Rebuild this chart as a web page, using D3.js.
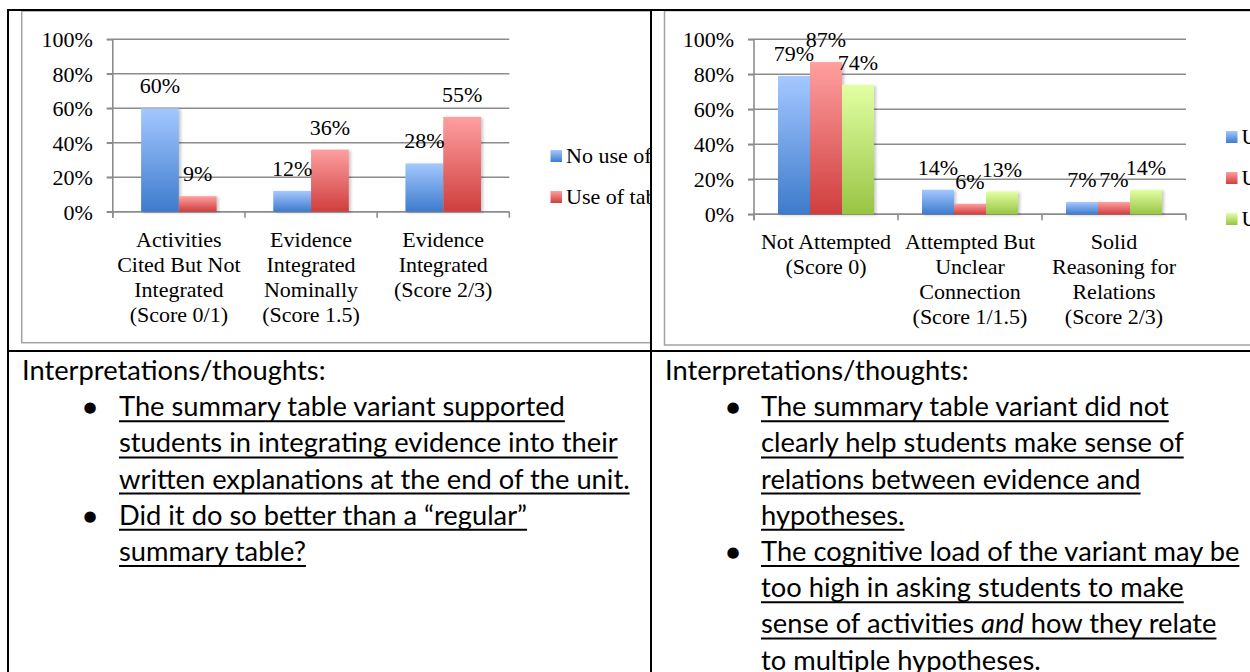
<!DOCTYPE html>
<html>
<head>
<meta charset="utf-8">
<script src="https://cdn.jsdelivr.net/npm/d3@7"></script>
<style>
  body { margin: 0; background: #fff; }
  svg { display: block; }
</style>
</head>
<body>
<script>
var width = 1250;
var height = 672;

// chart data
var yTicks = [0, 0.2, 0.4, 0.6, 0.8, 1.0];

var leftCategories = [
  ["Activities", "Cited But Not", "Integrated", "(Score 0/1)"],
  ["Evidence", "Integrated", "Nominally", "(Score 1.5)"],
  ["Evidence", "Integrated", "(Score 2/3)"]
];
var leftSeries = ["No use of table", "Use of table"];
var leftNoUse = [0.60, 0.12, 0.28];
var leftUse = [0.09, 0.36, 0.55];

var rightCategories = [
  ["Not Attempted", "(Score 0)"],
  ["Attempted But", "Unclear", "Connection", "(Score 1/1.5)"],
  ["Solid", "Reasoning for", "Relations", "(Score 2/3)"]
];
var rightSeries = ["Used regular table", "Used variant table", "Used no table"];
var rightRegular = [0.79, 0.14, 0.07];
var rightVariant = [0.87, 0.06, 0.07];
var rightNone = [0.74, 0.13, 0.14];

var leftNotes = [
  { bullet: true, lines: ["The summary table variant supported", "students in integrating evidence into their", "written explanations at the end of the unit."] },
  { bullet: true, lines: ["Did it do so better than a \u201Cregular\u201D", "summary table?"] }
];
var rightNotes = [
  { bullet: true, lines: ["The summary table variant did not", "clearly help students make sense of", "relations between evidence and", "hypotheses."] },
  { bullet: true, lines: ["The cognitive load of the variant may be", "too high in asking students to make", "sense of activities |and| how they relate", "to multiple hypotheses."] }
];

var gradStops = {
  blue: ["#a4c8ff", "#3d7bcc"],
  red: ["#ff9f9f", "#cf3e3e"],
  green: ["#e2ffa3", "#98c444"]
};

var svg = d3.select("body").append("svg")
    .attr("width", width)
    .attr("height", height);

var defs = svg.append("defs");
Object.keys(gradStops).forEach(function(k) {
  var g = defs.append("linearGradient")
      .attr("id", "grad-" + k)
      .attr("x1", 0).attr("y1", 0).attr("x2", 0).attr("y2", 1);
  g.append("stop").attr("offset", "0%").attr("stop-color", gradStops[k][0]);
  g.append("stop").attr("offset", "100%").attr("stop-color", gradStops[k][1]);
});
var shadow = defs.append("filter").attr("id", "shadow")
    .attr("x", "-20%").attr("y", "-20%").attr("width", "150%").attr("height", "150%");
shadow.append("feDropShadow")
    .attr("dx", 2).attr("dy", 1).attr("stdDeviation", 1.5)
    .attr("flood-color", "#000").attr("flood-opacity", 0.22);

defs.append("clipPath").attr("id", "clip-left")
  .append("rect").attr("x", 9).attr("y", 11).attr("width", 641).attr("height", 339);
defs.append("clipPath").attr("id", "clip-right")
  .append("rect").attr("x", 652).attr("y", 11).attr("width", 600).attr("height", 339);

function drawChart(cfg) {
  var g = svg.append("g").attr("clip-path", "url(#" + cfg.clip + ")");

  // chart frame
  g.append("rect")
      .attr("x", cfg.frame[0]).attr("y", cfg.frame[1])
      .attr("width", cfg.frame[2]).attr("height", cfg.frame[3])
      .attr("fill", "#fff")
      .attr("stroke", "#a3a3a3")
      .attr("stroke-width", 1.5);

  var y = d3.scaleLinear().domain([0, 1]).range(cfg.yRange);
  var x0 = d3.scaleBand()
      .domain(d3.range(cfg.categories.length))
      .range(cfg.xRange)
      .padding(0);
  var x1 = d3.scaleBand()
      .domain(d3.range(cfg.series.length))
      .range([0, x0.bandwidth()])
      .paddingInner(0)
      .paddingOuter(0.75);

  var left = cfg.xRange[0], right = cfg.xRange[1];

  // gridlines
  g.selectAll(".grid").data(yTicks).enter().append("line")
      .attr("class", "grid")
      .attr("x1", left - 6).attr("x2", right)
      .attr("y1", function(d) { return y(d); })
      .attr("y2", function(d) { return y(d); })
      .attr("stroke", "#8c8c8c")
      .attr("stroke-width", 1.6);

  // y axis
  var yAxis = d3.axisLeft(y)
      .tickValues(yTicks)
      .tickFormat(d3.format(".0%"))
      .tickSizeInner(6)
      .tickSizeOuter(0)
      .tickPadding(14);
  var ya = g.append("g")
      .attr("transform", "translate(" + left + ",0)")
      .call(yAxis);
  ya.select(".domain").remove();
  ya.selectAll("line").attr("stroke", "#8c8c8c").attr("stroke-width", 1.6);
  ya.selectAll("text")
      .attr("font-family", "'Liberation Serif', serif")
      .attr("font-size", 22)
      .attr("fill", "#000")
      .attr("dy", "0.34em");
  g.append("line")
      .attr("x1", left).attr("x2", left)
      .attr("y1", y(1)).attr("y2", y(0) + 6)
      .attr("stroke", "#8c8c8c").attr("stroke-width", 1.6);

  // x axis baseline + ticks at category boundaries
  g.append("line")
      .attr("x1", left).attr("x2", right)
      .attr("y1", y(0)).attr("y2", y(0))
      .attr("stroke", "#8c8c8c").attr("stroke-width", 1.6);
  var bounds = x0.domain().map(function(i) { return x0(i); }).concat([right]);
  g.selectAll(".xtick").data(bounds).enter().append("line")
      .attr("class", "xtick")
      .attr("x1", function(d) { return d; }).attr("x2", function(d) { return d; })
      .attr("y1", y(0)).attr("y2", y(0) + 6)
      .attr("stroke", "#8c8c8c").attr("stroke-width", 1.6);

  // bars
  cfg.values.forEach(function(vals, s) {
    g.selectAll(".bar-" + s).data(vals).enter().append("rect")
        .attr("class", "bar-" + s)
        .attr("x", function(d, i) { return x0(i) + x1(s); })
        .attr("y", function(d) { return y(d); })
        .attr("width", x1.bandwidth())
        .attr("height", function(d) { return y(0) - y(d); })
        .attr("fill", "url(#grad-" + cfg.colors[s] + ")")
        .attr("filter", "url(#shadow)");
  });

  // value labels
  cfg.values.forEach(function(vals, s) {
    g.selectAll(".lab-" + s).data(vals).enter().append("text")
        .attr("class", "lab-" + s)
        .attr("x", function(d, i) { return x0(i) + x1(s) + x1.bandwidth() / 2; })
        .attr("y", function(d) { return y(d) - 15; })
        .attr("text-anchor", "middle")
        .attr("font-family", "'Liberation Serif', serif")
        .attr("font-size", 22)
        .text(function(d) { return Math.round(d * 100) + "%"; });
  });

  // category labels
  var cat = g.selectAll(".cat").data(cfg.categories).enter().append("text")
      .attr("class", "cat")
      .attr("text-anchor", "middle")
      .attr("font-family", "'Liberation Serif', serif")
      .attr("font-size", 22);
  cat.each(function(lines, i) {
    var t = d3.select(this);
    lines.forEach(function(l, k) {
      t.append("tspan")
          .attr("x", x0(i) + x0.bandwidth() / 2)
          .attr("y", y(0) + 35 + k * 25)
          .text(l);
    });
  });

  // legend (cut off by the table cell, as in the original)
  cfg.series.forEach(function(name, s) {
    var cy = cfg.legendY + s * 41;
    g.append("rect")
        .attr("x", cfg.legendX).attr("y", cy - 6)
        .attr("width", 11.5).attr("height", 12)
        .attr("fill", "url(#grad-" + cfg.colors[s] + ")");
    g.append("text")
        .attr("x", cfg.legendX + 15.5)
        .attr("y", cy + 7)
        .attr("font-family", "'Liberation Serif', serif")
        .attr("font-size", 22)
        .text(name);
  });
}

drawChart({
  clip: "clip-left",
  frame: [21.7, 11, 660, 331.7],
  categories: leftCategories,
  series: leftSeries,
  values: [leftNoUse, leftUse],
  colors: ["blue", "red"],
  xRange: [112.8, 509.3],
  yRange: [211.7, 39.3],
  legendX: 550.5,
  legendY: 156
});

drawChart({
  clip: "clip-right",
  frame: [664.5, 10.7, 640, 334.3],
  categories: rightCategories,
  series: rightSeries,
  values: [rightRegular, rightVariant, rightNone],
  colors: ["blue", "red", "green"],
  xRange: [754, 1186],
  yRange: [214.3, 39.3],
  legendX: 1226,
  legendY: 137
});

// table borders
var border = svg.append("g").attr("stroke", "#000").attr("stroke-width", 2);
border.append("line").attr("x1", 7).attr("x2", width).attr("y1", 10).attr("y2", 10);
border.append("line").attr("x1", 8).attr("x2", 8).attr("y1", 9).attr("y2", height);
border.append("line").attr("x1", 651).attr("x2", 651).attr("y1", 9).attr("y2", height);
border.append("line").attr("x1", 7).attr("x2", width).attr("y1", 351).attr("y2", 351);

// notes below the charts
var noteFont = "Lato, 'Open Sans', sans-serif";
var noteSize = 27.3;
var lineGap = 36.2;

function drawNotes(notes, x, bulletX, textX) {
  var g = svg.append("g")
      .attr("font-family", noteFont)
      .attr("font-size", noteSize)
      .attr("fill", "#000");
  g.append("text")
      .attr("x", x)
      .attr("y", 380)
      .text("Interpretations/thoughts:");
  var row = 1;
  notes.forEach(function(n) {
    n.lines.forEach(function(l, k) {
      var by = 380 + row * lineGap;
      if (k === 0 && n.bullet) {
        g.append("text")
            .attr("x", bulletX)
            .attr("y", by - 9)
            .attr("text-anchor", "middle")
            .attr("dominant-baseline", "central")
            .attr("font-family", "'DejaVu Sans', sans-serif")
            .attr("font-size", 15)
            .text("\u25CF");
      }
      var t = g.append("text")
          .attr("x", textX)
          .attr("y", by);
      l.split("|").forEach(function(part, p) {
        t.append("tspan")
            .attr("font-style", p % 2 === 1 ? "italic" : null)
            .text(part);
      });
      var w = t.node().getComputedTextLength();
      g.append("line")
          .attr("x1", textX).attr("x2", textX + w)
          .attr("y1", by + 5).attr("y2", by + 5)
          .attr("stroke", "#000")
          .attr("stroke-width", 2);
      row++;
    });
  });
}

drawNotes(leftNotes, 22, 90, 119);
drawNotes(rightNotes, 665, 733, 761);
</script>
</body>
</html>
